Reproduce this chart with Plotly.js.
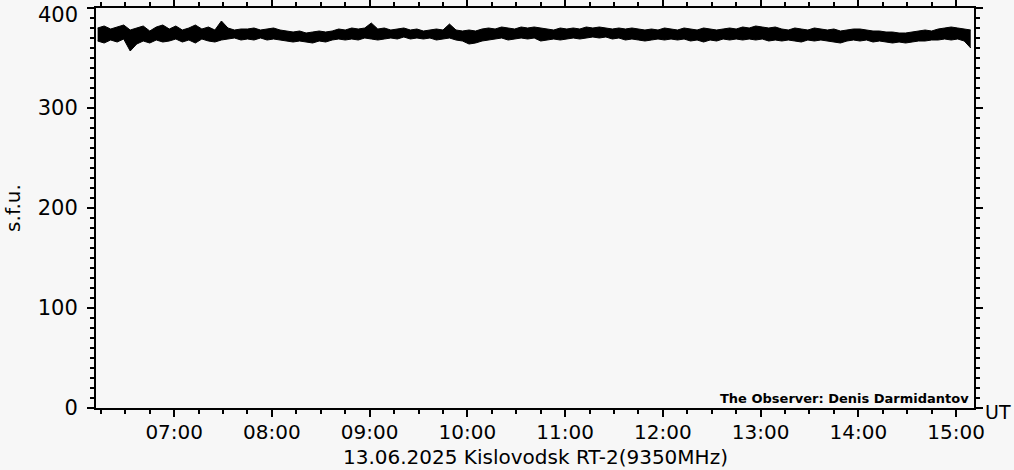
<!DOCTYPE html>
<html>
<head>
<meta charset="utf-8">
<script src="https://cdn.plot.ly/plotly-3.0.1.min.js"></script>
<style>
html,body{margin:0;padding:0;background:#f7f7f7;}
#chart{width:1014px;height:470px;}
</style>
</head>
<body>
<div id="chart"></div>
<script>
// Flux record sampled every 4 minutes starting at 06:12 UT
const startTime = '2025-06-13 06:12:00';
const stepMinutes = 4;

// Upper and lower edges of the noisy flux band (s.f.u.)
const fluxUpper = [
  380,382,379,381,383,378,380,382,377,381,383,379,382,378,380,383,379,381,378,387,380,378,379,
  379,380,378,379,380,378,377,376,377,375,376,377,376,377,379,378,380,379,380,385,379,380,378,
  379,380,378,379,377,378,379,378,384,378,377,378,377,379,380,379,381,380,379,381,380,381,380,
  379,378,380,379,380,379,381,380,381,380,379,380,379,380,379,378,379,378,380,379,378,380,
  379,378,380,379,378,379,380,379,381,380,382,381,380,381,379,378,380,379,378,380,379,378,379,
  377,378,379,379,378,377,377,376,376,375,375,376,377,378,377,379,380,381,380,379,378
];
const fluxLower = [
  367,365,368,366,369,357,364,367,365,368,366,367,369,366,368,365,369,367,366,368,369,370,368,
  369,368,370,368,369,368,367,366,367,366,365,367,366,368,369,368,369,368,370,369,368,369,370,
  369,371,369,370,369,370,368,369,370,368,367,364,365,367,368,369,370,368,369,370,369,370,367,
  368,369,368,369,370,369,370,371,370,371,369,370,368,369,368,367,368,369,368,369,368,369,
  367,368,366,368,367,369,368,369,368,369,368,369,367,368,367,368,367,366,368,367,368,367,366,
  365,367,368,367,368,366,367,366,365,366,365,366,367,367,368,368,369,368,369,367,360
];

const xRange = ['2025-06-13 06:12:00', '2025-06-13 15:11:00'];
const yRange = [0, 400];
const yTicks = [0, 100, 200, 300, 400];
const yTickText = ['0', '100', '200', '300', ''];
const topLabel = '400';
const xTitle = '13.06.2025 Kislovodsk RT-2(9350MHz)';
const yTitle = 's.f.u.';
const observer = 'The Observer: Denis Darmidantov';
const unitLabel = 'UT';

const t0 = new Date(startTime.replace(' ', 'T') + 'Z').getTime();
function fmt(ms){
  const d = new Date(ms);
  const p = n => String(n).padStart(2,'0');
  return d.getUTCFullYear()+'-'+p(d.getUTCMonth()+1)+'-'+p(d.getUTCDate())+' '+p(d.getUTCHours())+':'+p(d.getUTCMinutes())+':'+p(d.getUTCSeconds());
}
const times = fluxUpper.map((_, i) => fmt(t0 + i*stepMinutes*60000 + 60000));

const FONT = 'DejaVu Sans, sans-serif';
const bg = '#f7f7f7';

const lower = {
  x: times, y: fluxLower, type: 'scatter', mode: 'lines',
  line: {color: '#000000', width: 1},
  hoverinfo: 'skip'
};
const upper = {
  x: times, y: fluxUpper, type: 'scatter', mode: 'lines',
  line: {color: '#000000', width: 1},
  fill: 'tonexty', fillcolor: '#000000',
  hoverinfo: 'skip'
};

const axisCommon = {
  showgrid: false, zeroline: false,
  showline: true, linecolor: '#000', linewidth: 2,
  ticks: 'outside', tickcolor: '#000', tickwidth: 2, ticklen: 7,
  mirror: 'ticks'
};

const layout = {
  width: 1014, height: 470,
  paper_bgcolor: bg, plot_bgcolor: bg,
  margin: {l: 96, r: 40, t: 8, b: 62},
  showlegend: false,
  xaxis: Object.assign({}, axisCommon, {
    type: 'date', range: xRange,
    tick0: '2025-06-13 07:00:00', dtick: 3600000,
    tickformat: '%H:%M',
    ticklabelstandoff: -2,
    tickfont: {family: FONT, size: 20, color: '#000'},
    minor: {dtick: 900000, tick0: '2025-06-13 07:00:00', ticks: 'outside', ticklen: 4, tickwidth: 2, tickcolor: '#000'}
  }),
  yaxis: Object.assign({}, axisCommon, {
    range: yRange, tickvals: yTicks, ticktext: yTickText,
    ticklabelstandoff: 5,
    tickfont: {family: FONT, size: 21, color: '#000'},
    minor: {dtick: 10, tick0: 0, ticks: 'outside', ticklen: 4, tickwidth: 2, tickcolor: '#000'},
    title: {text: yTitle, font: {family: FONT, size: 20, color: '#000'}, standoff: 12}
  }),
  annotations: [
    {text: topLabel, xref: 'paper', yref: 'paper', x: -0.0194, y: 1.014,
     xanchor: 'right', yanchor: 'top', showarrow: false, borderpad: 0,
     font: {family: FONT, size: 21, color: '#000'}},
    {text: xTitle, xref: 'paper', yref: 'paper', x: 0.5, y: -0.155,
     xanchor: 'center', yanchor: 'bottom', showarrow: false, borderpad: 0,
     font: {family: FONT, size: 20, color: '#000'}},
    {text: observer, xref: 'paper', yref: 'paper', x: 0.9966, y: 0.025,
     xanchor: 'right', yanchor: 'middle', showarrow: false,
     font: {family: FONT, size: 13, color: '#000', weight: 'bold'}},
    {text: unitLabel, xref: 'paper', yref: 'paper', x: 1.0444, y: -0.01,
     xanchor: 'right', yanchor: 'middle', showarrow: false,
     font: {family: FONT, size: 19, color: '#000'}}
  ]
};

Plotly.newPlot('chart', [lower, upper], layout, {staticPlot: true, displayModeBar: false});
</script>
</body>
</html>
